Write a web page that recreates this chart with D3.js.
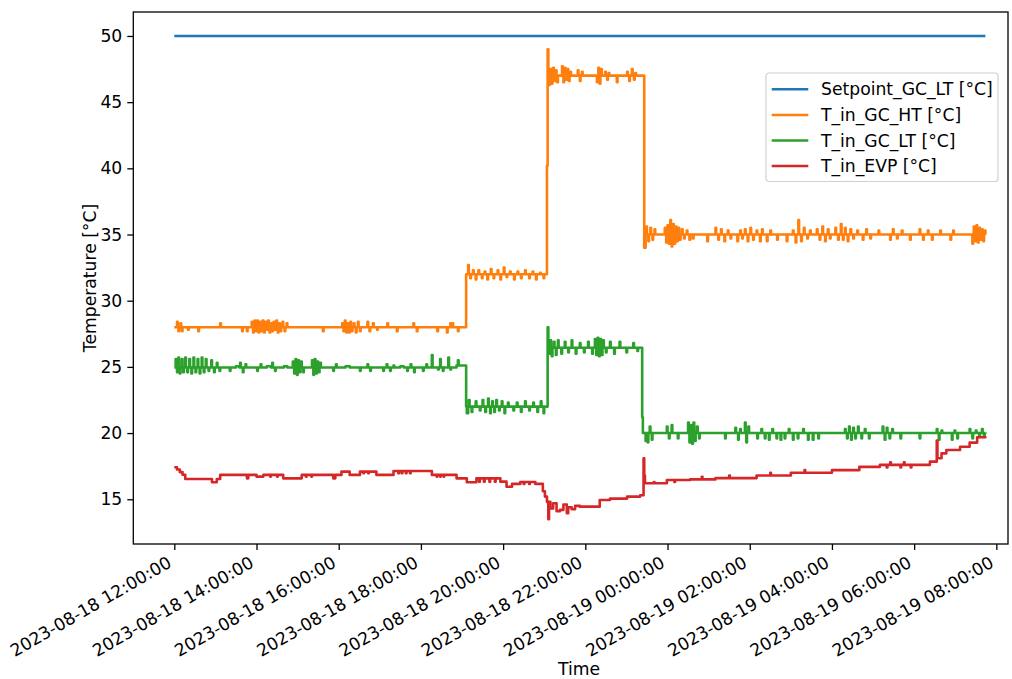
<!DOCTYPE html>
<html lang="en">
<head>
<meta charset="UTF-8">
<title>Temperatures</title>
<script src="https://d3js.org/d3.v7.min.js"></script>
<style>
  body { margin: 0; background: #fff; }
  svg { display: block; font-family: "DejaVu Sans", sans-serif; }
</style>
</head>
<body>
<svg id="chart" width="1012" height="679"></svg>
<script>
// minutes since 2023-08-18 12:00:00
const startTime = "2023-08-18 12:00:00";
const xTickLabels = [
  "2023-08-18 12:00:00", "2023-08-18 14:00:00", "2023-08-18 16:00:00",
  "2023-08-18 18:00:00", "2023-08-18 20:00:00", "2023-08-18 22:00:00",
  "2023-08-19 00:00:00", "2023-08-19 02:00:00", "2023-08-19 04:00:00",
  "2023-08-19 06:00:00", "2023-08-19 08:00:00"
];
const yTickValues = [15, 20, 25, 30, 35, 40, 45, 50];
const seriesNames = ["Setpoint_GC_LT [°C]", "T_in_GC_HT [°C]", "T_in_GC_LT [°C]", "T_in_EVP [°C]"];
const seriesColors = ["#1f77b4", "#ff7f0e", "#2ca02c", "#d62728"];

// level changes: [minute, value]
const setpointLevels = [[0, 50], [1184, 50]];
const htLevels = [[0, 28.0], [426, 32.0], [544, 40.2], [545, 47.0], [686, 35.0], [1184, 35.0]];
const ltLevels = [[0, 24.95], [412, 25.1], [426, 22.0], [545, 26.45], [683, 21.2], [684, 20.0], [1184, 20.05]];
const evpLevels = [
  [0, 17.42], [4, 17.25], [8, 17.05], [12, 16.85], [16, 16.53], [55, 16.28], [62, 16.53],
  [67, 16.84], [106, 16.58], [108, 16.84], [120, 16.71], [130, 16.84], [159, 16.58],
  [186, 16.84], [232, 16.58], [235, 16.84], [244, 17.09], [256, 16.84], [271, 17.09],
  [295, 16.84], [320, 17.14], [376, 16.84], [412, 16.58], [427, 16.28], [441, 16.58],
  [476, 16.33], [485, 15.95], [493, 16.16], [505, 16.3], [527, 16.16], [538, 15.6],
  [541, 15.2], [544, 14.8], [546, 13.49], [547, 14.8], [549, 14.3], [553, 14.7],
  [558, 14.1], [563, 14.2], [568, 14.6], [573, 13.95], [575, 14.4], [580, 14.25],
  [585, 14.5], [592, 14.44], [621, 14.94], [636, 15.05], [661, 15.2], [680, 15.3],
  [685, 18.1], [686, 16.8], [687, 16.21], [719, 16.46], [753, 16.5], [790, 16.6],
  [850, 16.8], [900, 17.0], [960, 17.2], [1000, 17.45], [1030, 17.6], [1103, 17.84],
  [1113, 19.43], [1114, 18.1], [1120, 18.47], [1127, 18.72], [1147, 18.97],
  [1161, 19.28], [1172, 19.68], [1184, 19.75]
];

// short excursions: [minute, value, duration]
const htSpikes = [
  [4, 28.4], [6, 27.7], [9, 28.3], [11, 27.7], [20, 27.8], [35, 27.7], [67, 28.3], [99, 27.7],
  [106, 27.7], [113, 28.4], [115, 27.6], [117, 28.5], [119, 27.7], [121, 28.5], [123, 27.6],
  [125, 28.4], [127, 27.7], [129, 28.5], [131, 27.6], [133, 28.4], [135, 27.8], [137, 28.5],
  [139, 27.6], [141, 28.3], [143, 27.7], [145, 28.4], [147, 27.8], [149, 28.5], [151, 27.6],
  [153, 28.3], [155, 27.7], [158, 28.4], [161, 27.7], [164, 28.3], [217, 27.7], [245, 28.3],
  [247, 27.7], [249, 28.5], [251, 27.6], [253, 28.3], [255, 27.6], [257, 28.4], [259, 27.7],
  [262, 28.3], [265, 27.6], [268, 28.4], [271, 27.7], [282, 28.4], [285, 27.7], [290, 28.3],
  [296, 27.8], [311, 28.3], [325, 27.7],
  [349, 28.3], [354, 27.7], [384, 27.7], [398, 27.6], [403, 28.3], [406, 28.3], [414, 27.7],
  [429, 32.7], [432, 31.7], [436, 32.3], [440, 31.6], [444, 32.3], [449, 31.7], [453, 32.2],
  [457, 31.6], [462, 32.4], [466, 31.7], [472, 32.3], [476, 31.6], [481, 32.5], [485, 31.8],
  [490, 32.2], [496, 31.6], [501, 32.2], [506, 31.7], [512, 32.3], [518, 31.7], [523, 32.2],
  [528, 31.6], [534, 32.1], [539, 31.7],
  [545, 49.0], [547, 46.3], [549, 47.5], [551, 46.4], [553, 47.6], [555, 46.6], [557, 47.4],
  [559, 46.5], [566, 47.7], [568, 46.5], [570, 47.6], [572, 46.7], [574, 47.5], [576, 46.6],
  [578, 47.3], [589, 47.4], [592, 46.6], [595, 47.3], [617, 46.5], [619, 47.6], [621, 46.4],
  [623, 47.5], [629, 47.3], [632, 46.7], [634, 47.2], [646, 46.5], [661, 47.3], [664, 46.6],
  [668, 47.5], [671, 46.7], [673, 47.2],
  [686, 34.0, 2], [689, 35.6], [692, 34.5], [695, 35.5], [698, 34.6], [701, 35.4], [716, 35.5],
  [718, 34.4], [720, 35.7], [722, 34.3], [724, 36.1], [726, 34.1], [728, 35.8], [730, 34.3],
  [732, 35.6], [734, 34.5], [736, 35.5], [738, 34.6], [741, 35.4], [744, 34.7], [748, 35.3],
  [752, 34.6], [757, 34.7], [778, 34.5],
  [790, 35.5], [794, 34.6], [798, 35.4], [803, 34.5], [808, 35.3], [812, 34.7], [822, 34.5],
  [826, 35.3], [829, 34.7], [833, 35.4], [837, 34.5], [841, 35.5], [845, 34.6], [850, 35.3],
  [855, 34.5], [858, 35.4], [865, 34.5], [870, 35.3], [880, 34.6], [894, 34.5], [903, 35.3],
  [907, 34.4], [911, 36.1], [915, 34.5], [919, 35.5], [924, 34.7], [928, 35.3], [938, 35.4],
  [942, 34.6], [946, 35.6], [950, 34.5], [954, 35.4], [957, 34.7], [965, 35.5], [969, 34.6],
  [973, 35.8], [976, 34.6], [979, 35.5], [983, 34.5], [987, 35.4], [991, 34.7], [997, 35.3],
  [1005, 34.6], [1010, 35.4], [1016, 34.7], [1028, 35.3], [1045, 34.6], [1049, 35.4],
  [1055, 34.7], [1062, 35.3], [1074, 34.6], [1088, 35.4], [1093, 34.6], [1100, 35.3],
  [1106, 34.6], [1118, 35.3], [1133, 34.6], [1137, 35.3], [1165, 34.3], [1167, 35.6],
  [1169, 34.5], [1171, 35.7], [1173, 34.4], [1175, 35.5], [1177, 34.6], [1179, 35.4],
  [1181, 34.5], [1183, 35.3]
];
const ltSpikes = [
  [2, 25.6], [4, 24.6], [6, 25.7], [8, 24.5], [11, 25.6], [13, 24.6], [16, 25.7], [19, 24.6],
  [22, 25.6], [25, 24.5], [28, 25.7], [31, 24.6], [34, 25.6], [37, 24.5], [40, 25.7], [43, 24.6],
  [46, 25.6], [50, 24.7], [54, 25.5], [58, 24.6], [62, 25.3], [66, 24.7], [81, 24.7],
  [90, 25.05, 5], [96, 25.3], [100, 24.6], [104, 25.2], [121, 24.7], [126, 25.2], [135, 25.05, 6],
  [143, 25.3], [147, 24.7], [160, 25.05, 5], [173, 25.4], [175, 24.5], [177, 25.6], [179, 24.4],
  [181, 25.5], [183, 24.6], [185, 25.4], [188, 24.6], [201, 25.5], [203, 24.4], [205, 25.6],
  [207, 24.5], [209, 25.4], [211, 24.6], [213, 25.3], [232, 24.7], [236, 25.2], [250, 25.05, 6],
  [271, 24.7], [282, 25.2], [286, 24.7], [305, 24.7], [310, 25.2], [315, 24.7], [320, 25.1],
  [330, 25.05, 5], [340, 24.7], [345, 25.2], [350, 24.6], [363, 24.7], [368, 25.2], [376, 25.9],
  [385, 24.8], [388, 25.6], [392, 24.7], [400, 25.7], [403, 24.8], [414, 25.5],
  [427, 21.5, 2], [430, 22.5], [434, 21.6], [440, 22.4], [446, 21.7], [450, 22.5], [454, 21.6],
  [458, 22.6], [461, 21.5], [464, 22.4], [467, 21.6], [470, 22.5], [474, 21.7], [478, 22.4],
  [482, 21.5], [487, 22.3], [495, 21.7], [500, 22.3], [506, 21.6], [512, 22.4], [518, 21.7],
  [524, 22.3], [530, 21.6], [535, 22.4], [539, 21.5],
  [545, 28.0], [547, 26.0], [549, 27.0], [551, 25.8], [554, 26.9], [557, 25.9], [560, 27.0],
  [565, 26.0], [570, 26.9], [575, 26.1], [580, 27.0], [586, 26.0], [592, 26.8], [598, 26.1],
  [604, 26.9], [610, 26.0], [614, 27.1], [616, 25.9], [618, 27.2], [620, 25.8], [622, 27.1],
  [624, 25.9], [626, 27.0], [630, 26.1], [636, 26.9], [642, 26.0], [650, 26.9], [660, 26.1],
  [670, 26.8], [676, 26.2],
  [688, 19.4], [691, 19.3], [694, 20.5], [697, 19.5], [719, 20.5], [722, 19.6], [726, 20.6],
  [735, 19.6], [750, 20.8], [752, 19.3], [754, 20.6], [756, 19.2], [758, 20.8], [760, 19.4],
  [763, 20.5], [766, 19.6], [804, 19.6], [819, 20.4], [823, 19.5], [826, 20.3], [833, 20.8],
  [835, 19.3], [838, 20.5], [851, 19.6], [857, 20.3], [862, 19.6], [868, 19.5], [873, 20.3],
  [879, 19.6], [885, 19.5], [891, 19.6], [897, 20.3], [903, 19.5], [910, 19.6], [918, 20.3],
  [925, 19.5], [932, 19.5], [940, 19.6], [979, 20.3], [982, 19.6], [985, 20.5], [988, 19.5],
  [991, 20.4], [994, 19.6], [998, 20.5], [1003, 19.6], [1008, 20.3], [1014, 19.6], [1034, 20.5],
  [1037, 19.5], [1040, 20.4], [1044, 19.6], [1048, 20.3], [1060, 19.6], [1088, 19.6],
  [1113, 20.3], [1116, 19.5], [1120, 20.2], [1135, 19.5], [1139, 20.2], [1143, 19.6],
  [1161, 20.3], [1165, 19.6], [1170, 20.2], [1175, 19.7], [1179, 20.3], [1182, 19.8]
];
const evpSpikes = [
  [140, 16.71], [150, 16.71], [192, 16.71], [200, 16.71], [276, 16.96], [283, 16.96],
  [327, 16.96], [332, 16.96], [338, 16.96], [344, 16.96], [383, 16.71], [388, 16.71],
  [393, 16.71], [445, 16.33], [452, 16.33], [460, 16.33], [468, 16.33], [510, 16.16],
  [518, 16.16], [700, 16.3], [730, 16.3], [770, 16.7], [810, 16.8], [870, 17.0],
  [920, 17.2], [1040, 17.4], [1045, 17.8], [1060, 17.4], [1065, 17.8], [1075, 17.4]
];

const svg = d3.select("#chart");
const margin = { left: 133.3, right: 1008, top: 12, bottom: 544 };
const fontSize = "17.2px";
const fontFamily = "DejaVu Sans, sans-serif";
const parse = d3.timeParse("%Y-%m-%d %H:%M:%S");
const fmt = d3.timeFormat("%Y-%m-%d %H:%M:%S");
const t0 = parse(startTime);
const atMinute = m => new Date(t0.getTime() + m * 60000);

const x = d3.scaleTime()
  .domain([atMinute(-59.85), atMinute(1217)])
  .range([margin.left, margin.right]);
const y = d3.scaleLinear()
  .domain([11.62, 51.81])
  .range([margin.bottom, margin.top]);

// merge level changes and short excursions into one step series
function buildSeries(levels, spikes) {
  const levelAt = m => {
    let v = levels[0][1];
    for (const l of levels) if (l[0] <= m) v = l[1];
    return v;
  };
  const pts = levels.map(l => ({ m: l[0], v: l[1], k: 1 }));
  spikes.forEach(s => {
    const d = s[2] || 1;
    pts.push({ m: s[0], v: s[1], k: 2 });
    pts.push({ m: s[0] + d, v: levelAt(s[0] + d), k: 0 });
  });
  pts.sort((a, b) => a.m - b.m || a.k - b.k);
  return pts.filter(p => p.m <= levels[levels.length - 1][0]);
}

const series = [
  buildSeries(setpointLevels, []),
  buildSeries(htLevels, htSpikes),
  buildSeries(ltLevels, ltSpikes),
  buildSeries(evpLevels, evpSpikes)
];

const line = d3.line()
  .x(d => x(atMinute(d.m)))
  .y(d => y(d.v))
  .curve(d3.curveStepAfter);

svg.append("defs").append("clipPath").attr("id", "clip")
  .append("rect")
  .attr("x", margin.left).attr("y", margin.top)
  .attr("width", margin.right - margin.left)
  .attr("height", margin.bottom - margin.top);

svg.append("g").attr("clip-path", "url(#clip)")
  .selectAll("path")
  .data(series)
  .join("path")
  .attr("d", line)
  .attr("fill", "none")
  .attr("stroke", (d, i) => seriesColors[i])
  .attr("stroke-width", 2.6)
  .attr("stroke-linejoin", "round");

// axes
const xAxis = svg.append("g")
  .attr("transform", `translate(0,${margin.bottom})`)
  .call(d3.axisBottom(x)
    .tickValues(xTickLabels.map(parse))
    .tickFormat(fmt)
    .tickSizeInner(6).tickSizeOuter(0));
xAxis.selectAll(".tick text")
  .attr("text-anchor", "end")
  .attr("y", null).attr("dy", null)
  .attr("transform", "translate(-2,22) rotate(-30)");

const yAxis = svg.append("g")
  .attr("transform", `translate(${margin.left},0)`)
  .call(d3.axisLeft(y)
    .tickValues(yTickValues)
    .tickSizeInner(6).tickSizeOuter(0)
    .tickPadding(5));

[xAxis, yAxis].forEach(a => a
  .attr("font-family", fontFamily)
  .attr("font-size", fontSize)
  .attr("fill", "#000"));

svg.selectAll(".domain").remove();
svg.selectAll(".tick line").attr("stroke", "#000").attr("stroke-width", 1.3);

// frame
svg.append("rect")
  .attr("x", margin.left).attr("y", margin.top)
  .attr("width", margin.right - margin.left)
  .attr("height", margin.bottom - margin.top)
  .attr("fill", "none")
  .attr("stroke", "#000")
  .attr("stroke-width", 1.3);

svg.append("text")
  .attr("x", 579).attr("y", 675)
  .attr("text-anchor", "middle")
  .style("font-size", fontSize)
  .text("Time");

svg.append("text")
  .attr("transform", `translate(90,${(margin.top + margin.bottom) / 2}) rotate(-90)`)
  .attr("text-anchor", "middle")
  .attr("dy", "0.35em")
  .style("font-size", fontSize)
  .text("Temperature [°C]");

// legend
const legend = svg.append("g").attr("transform", "translate(766,73)");
legend.append("rect")
  .attr("width", 232).attr("height", 108.5)
  .attr("rx", 3)
  .attr("fill", "rgba(255,255,255,0.8)")
  .attr("stroke", "#d0d0d0")
  .attr("stroke-width", 1.2);
const items = legend.selectAll(".item")
  .data(seriesNames)
  .join("g")
  .attr("class", "item")
  .attr("transform", (d, i) => `translate(0,${16.3 + i * 25.6})`);
items.append("line")
  .attr("x1", 5.7).attr("x2", 42.3)
  .attr("stroke", (d, i) => seriesColors[i])
  .attr("stroke-width", 2.5);
items.append("text")
  .attr("x", 55)
  .attr("dy", "0.35em")
  .style("font-size", fontSize)
  .text(d => d);
</script>
</body>
</html>
